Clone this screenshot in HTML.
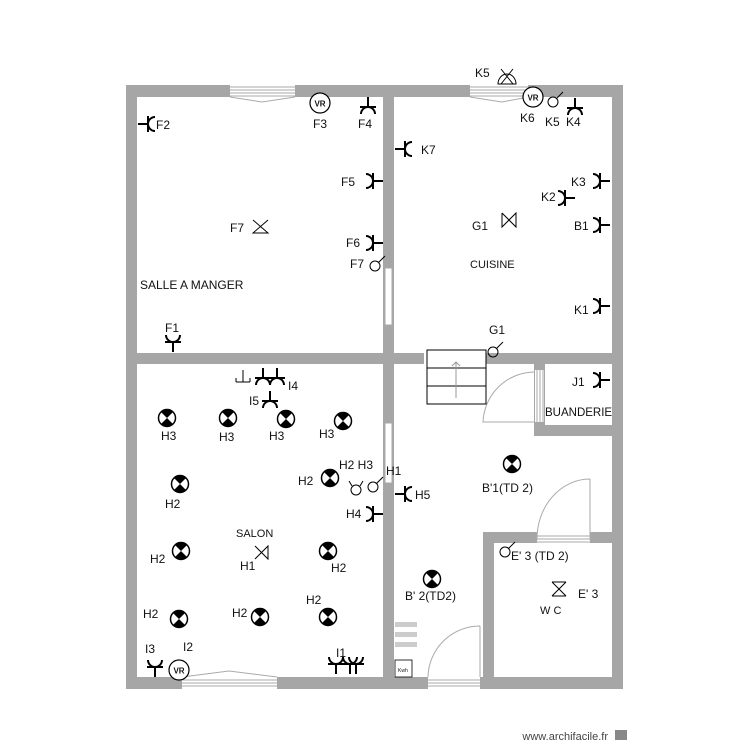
<!DOCTYPE html>
<html><head><meta charset="utf-8"><style>
body{margin:0;background:#fff}
svg{display:block}
text{font-family:"Liberation Sans",sans-serif;font-size:12px;fill:#111}
</style></head><body>
<svg width="750" height="750" viewBox="0 0 750 750" xmlns="http://www.w3.org/2000/svg">
<defs>
<g id="o" fill="none" stroke="#000" stroke-width="2"><path d="M0,-9V1M-8,1H8"/><path d="M-7,8A7,7 0 0 1 7,8"/></g>
<g id="l"><circle r="8.5" fill="#fff" stroke="#000" stroke-width="1.5"/><path d="M0,0L-6,-6A8.5,8.5 0 0 1 6,-6Z M0,0L-6,6A8.5,8.5 0 0 0 6,6Z" fill="#000"/></g>
<g id="s" fill="none" stroke="#000" stroke-width="1"><circle r="5"/><path d="M3.5,-3.5L10,-10"/></g>
<g id="vr"><circle r="10" fill="#fff" stroke="#000" stroke-width="1.2"/><text x="0" y="3.5" text-anchor="middle" style="font-size:8px;font-weight:bold">VR</text></g>
</defs>
<g fill="#a6a6a6">
<rect x="126" y="85" width="497" height="12"/>
<rect x="126" y="677" width="497" height="12"/>
<rect x="126" y="85" width="11" height="604"/>
<rect x="612" y="85" width="11" height="604"/>
<rect x="383" y="85" width="11" height="604"/>
<rect x="126" y="353" width="298" height="11"/>
<rect x="486" y="353" width="137" height="11"/>
<rect x="534" y="353" width="11" height="83"/>
<rect x="534" y="425" width="89" height="11"/>
<rect x="483" y="532" width="11" height="157"/>
<rect x="483" y="532" width="140" height="11"/>
</g>
<g fill="#fff" stroke="#aaa" stroke-width="1">
<rect x="230" y="85" width="65" height="12" stroke="none"/>
<path d="M230,87H295M230,90H295M230,93H295M230,96H295M230,97L262,102L295,97"/>
<rect x="470" y="85" width="58" height="12" stroke="none"/>
<path d="M470,87H528M470,90H528M470,93H528M470,96H528M470,97L502,102L528,97"/>
<rect x="182" y="677" width="95" height="12" stroke="none"/>
<path d="M182,680H277M182,683H277M182,686H277M182,677L229,671L277,677"/>
<rect x="385" y="268" width="7" height="57"/>
<rect x="385" y="423" width="7" height="60"/>
<rect x="535" y="370" width="9" height="52" stroke="none"/>
<path d="M537,370V422M540,370V422M543,370V422"/>
<path d="M535,372A52,52 0 0 0 483,422H535" fill="none"/>
<rect x="537" y="532" width="53" height="11" stroke="none"/>
<path d="M537,536H590M537,539H590M537,542H590"/>
<path d="M590,479V540M590,479A53,60 0 0 0 537,540" fill="none"/>
<rect x="428" y="677" width="52" height="12" stroke="none"/>
<path d="M428,680H480M428,683H480M428,686H480"/>
<path d="M480,626V677M480,626A52,52 0 0 0 428,677" fill="none"/>
</g>
<g fill="#fff" stroke="#000" stroke-width="1"><rect x="427" y="350" width="59" height="54"/><path d="M427,368H486M427,386H486"/></g>
<path d="M456,398V362M452,366L456,362L460,366" stroke="#999" fill="none"/>
<g fill="#ccc"><rect x="395" y="622" width="22" height="5"/><rect x="395" y="632" width="22" height="5"/><rect x="395" y="642" width="22" height="5"/></g>
<rect x="395" y="660" width="17" height="17" fill="#fff" stroke="#000" stroke-width="0.8"/><text x="398" y="672" style="font-size:5px">Kwh</text>
<use href="#o" transform="translate(147,124) rotate(-90)"/>
<use href="#o" transform="translate(368,106)"/>
<use href="#o" transform="translate(374,181) rotate(90)"/>
<use href="#o" transform="translate(374,243) rotate(90)"/>
<use href="#o" transform="translate(173,343) rotate(180)"/>
<use href="#o" transform="translate(404,149) rotate(-90)"/>
<use href="#o" transform="translate(575,107)"/>
<use href="#o" transform="translate(601,181) rotate(90)"/>
<use href="#o" transform="translate(566,198) rotate(90)"/>
<use href="#o" transform="translate(601,225) rotate(90)"/>
<use href="#o" transform="translate(601,306) rotate(90)"/>
<use href="#o" transform="translate(601,380) rotate(90)"/>
<use href="#o" transform="translate(404,494) rotate(-90)"/>
<use href="#o" transform="translate(374,514) rotate(90)"/>
<use href="#o" transform="translate(270,400)"/>
<use href="#o" transform="translate(263,377)"/>
<use href="#o" transform="translate(277,377)"/>
<use href="#o" transform="translate(155,668) rotate(180)"/>
<use href="#o" transform="translate(336,665) rotate(180)"/>
<use href="#o" transform="translate(350,665) rotate(180)"/>
<use href="#o" transform="translate(356,665) rotate(180)"/>
<path d="M236,382H250M243,382V370M236,382V378M250,382V378" stroke="#000" fill="none"/>
<use href="#vr" x="320" y="103"/><use href="#vr" x="533" y="97"/><use href="#vr" x="179" y="670"/>
<use href="#s" x="375" y="266"/><use href="#s" x="553" y="102"/><use href="#s" x="493" y="352"/><use href="#s" x="505" y="552"/>
<use href="#s" x="373" y="487"/>
<g fill="none" stroke="#000"><circle cx="356" cy="490" r="5"/><path d="M352,486L349,481M360,486L363,481"/></g>
<g fill="none" stroke="#000" stroke-width="1">
<path d="M253,220L268,233H253L268,220"/>
<path d="M502,213L516,227V213L502,227V213"/>
<path d="M255,546L268,559V546L255,559"/>
<path d="M552,582H566M552,596H566M552,582L566,596M566,582L552,596"/>
<path d="M498,84A9,10 0 0 1 516,84Z M501,69L513,84M513,69L501,84"/>
</g>
<g>
<use href="#l" x="167" y="418"/><use href="#l" x="228" y="418"/><use href="#l" x="286" y="419"/><use href="#l" x="343" y="421"/>
<use href="#l" x="180" y="484"/><use href="#l" x="330" y="478"/><use href="#l" x="181" y="551"/><use href="#l" x="328" y="551"/>
<use href="#l" x="179" y="619"/><use href="#l" x="260" y="617"/><use href="#l" x="328" y="617"/>
<use href="#l" x="512" y="464"/><use href="#l" x="432" y="579"/>
</g>
<text x="475" y="77">K5</text>
<text x="156" y="129">F2</text><text x="313" y="128">F3</text><text x="358" y="128">F4</text>
<text x="421" y="154">K7</text><text x="341" y="186">F5</text><text x="230" y="232">F7</text>
<text x="346" y="247">F6</text><text x="350" y="268">F7</text>
<text x="140" y="289">SALLE A MANGER</text><text x="165" y="332">F1</text>
<text x="520" y="122">K6</text><text x="545" y="126">K5</text><text x="566" y="126">K4</text>
<text x="571" y="186">K3</text><text x="541" y="201">K2</text><text x="472" y="230">G1</text>
<text x="574" y="230">B1</text><text x="470" y="268" style="font-size:11px">CUISINE</text>
<text x="574" y="314">K1</text><text x="489" y="334">G1</text>
<text x="572" y="386">J1</text><text x="545" y="416" style="font-size:11.5px">BUANDERIE</text>
<text x="288" y="390">I4</text><text x="249" y="405">I5</text>
<text x="161" y="440">H3</text><text x="219" y="441">H3</text><text x="269" y="440">H3</text><text x="319" y="438">H3</text>
<text x="339" y="469">H2 H3</text><text x="386" y="475">H1</text><text x="298" y="485">H2</text>
<text x="415" y="499">H5</text><text x="346" y="518">H4</text><text x="165" y="508">H2</text>
<text x="482" y="492">B'1(TD 2)</text>
<text x="236" y="537" style="font-size:11px">SALON</text>
<text x="150" y="563">H2</text><text x="240" y="570">H1</text><text x="331" y="572">H2</text>
<text x="511" y="560">E' 3 (TD 2)</text>
<text x="405" y="600">B' 2(TD2)</text><text x="578" y="598">E' 3</text><text x="540" y="614" style="font-size:11px">W C</text>
<text x="143" y="618">H2</text><text x="232" y="617">H2</text><text x="306" y="604">H2</text>
<text x="145" y="653">I3</text><text x="183" y="651">I2</text><text x="336" y="657">I1</text>
<text x="608" y="740" text-anchor="end" style="font-size:11px;fill:#444">www.archifacile.fr</text>
<rect x="615" y="730" width="12" height="10" fill="#888"/>
</svg>
</body></html>
